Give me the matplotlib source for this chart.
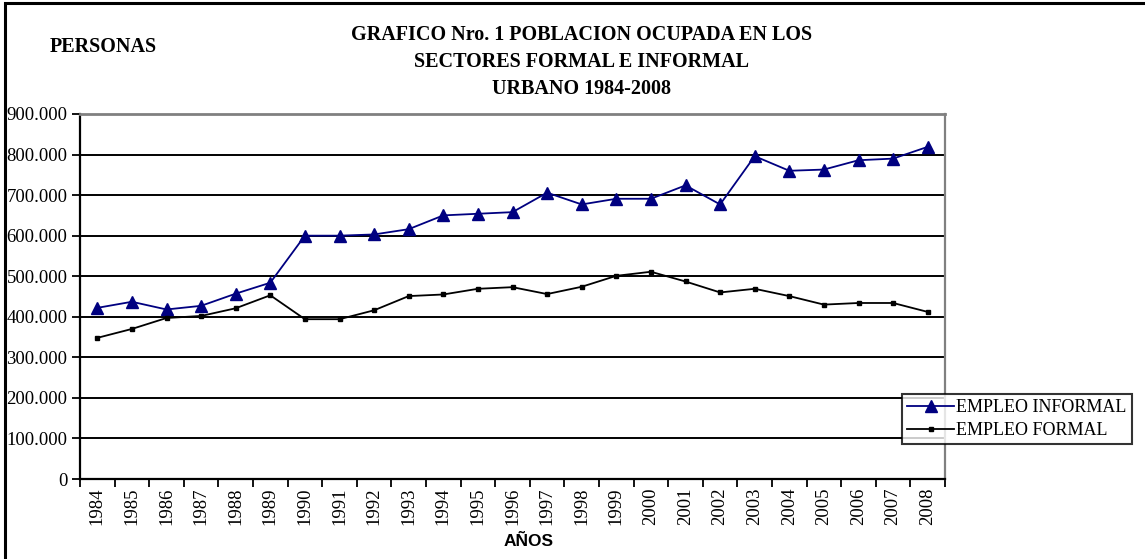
import matplotlib
matplotlib.use("Agg")
import matplotlib.pyplot as plt
from matplotlib.ticker import FixedLocator, FuncFormatter
from matplotlib.patches import Rectangle

years = [1984, 1985, 1986, 1987, 1988, 1989, 1990, 1991, 1992, 1993, 1994, 1995,
         1996, 1997, 1998, 1999, 2000, 2001, 2002, 2003, 2004, 2005, 2006, 2007, 2008]
informal = [422000, 437000, 418000, 427000, 457000, 484000, 600000, 600000, 603000,
            616000, 650000, 654000, 658000, 706000, 677000, 691000, 691000, 724000,
            677000, 796000, 760000, 763000, 786000, 790000, 819000]
formal = [348000, 370000, 397000, 402000, 421000, 453000, 394000, 394000, 416000,
          451000, 455000, 469000, 473000, 456000, 474000, 501000, 511000, 487000,
          460000, 469000, 451000, 430000, 434000, 434000, 412000]
y_ticks = [0, 100000, 200000, 300000, 400000, 500000, 600000, 700000, 800000, 900000]

W, H = 1145, 559
fig = plt.figure(figsize=(W / 100, H / 100), dpi=100)
ax = fig.add_axes([80 / W, 1 - 479 / H, (945 - 80) / W, (479 - 114) / H])

serif = "Liberation Serif"
x = list(range(len(years)))

for yv in y_ticks[1:]:
    ax.axhline(yv, color="black", lw=1.4, zorder=1)

l1, = ax.plot(x, informal, color="#000080", lw=1.3, marker="^", markersize=9,
              markerfacecolor="#000080", markeredgecolor="#000080", zorder=3,
              label="EMPLEO INFORMAL")
l2, = ax.plot(x, formal, color="black", lw=1.3, marker="s", markersize=3.5,
              markerfacecolor="black", zorder=3, label="EMPLEO FORMAL")

ax.set_xlim(-0.5, len(years) - 0.5)
ax.set_ylim(0, 900000)
ax.set_yticks(y_ticks)
ax.yaxis.set_major_formatter(FuncFormatter(lambda v, p: "0" if v == 0 else f"{int(v):,}".replace(",", ".")))

ax.xaxis.set_major_locator(FixedLocator([i - 0.5 for i in range(len(years) + 1)]))
ax.xaxis.set_minor_locator(FixedLocator(x))
ax.xaxis.set_major_formatter(FuncFormatter(lambda v, p: ""))
ax.xaxis.set_minor_formatter(FuncFormatter(lambda v, p: str(years[int(round(v))]) if 0 <= round(v) < len(years) else ""))
ax.tick_params(axis="x", which="major", direction="out", length=6, width=1.3, color="black")
ax.tick_params(axis="x", which="minor", length=0, pad=6)
ax.tick_params(axis="y", direction="out", length=6, width=1.3, pad=3)
for lab in ax.get_xticklabels(minor=True):
    lab.set_rotation(90)
    lab.set_fontfamily(serif)
    lab.set_fontsize(13.5)
for lab in ax.get_yticklabels():
    lab.set_fontfamily(serif)
    lab.set_fontsize(13.5)

ax.spines["left"].set_color("black")
ax.spines["left"].set_linewidth(1.6)
ax.spines["bottom"].set_color("black")
ax.spines["bottom"].set_linewidth(1.6)
ax.spines["top"].set_color("#808080")
ax.spines["top"].set_linewidth(2)
ax.spines["right"].set_color("#808080")
ax.spines["right"].set_linewidth(1.6)

tkw = dict(ha="center", va="center", fontfamily=serif, fontweight="bold", fontsize=14.5)
fig.text(582 / W, 1 - 35 / H, "GRAFICO Nro. 1 POBLACION OCUPADA EN LOS", **tkw)
fig.text(582 / W, 1 - 62 / H, "SECTORES FORMAL E INFORMAL", **tkw)
fig.text(582 / W, 1 - 89 / H, "URBANO 1984-2008", **tkw)
fig.text(103 / W, 1 - 47 / H, "PERSONAS", **tkw)
fig.text(529 / W, 1 - 541 / H, "AÑOS", ha="center", va="center",
         fontfamily="Liberation Sans", fontweight="bold", fontsize=12.5)

leg = fig.legend(handles=[l1, l2], loc="upper left", bbox_to_anchor=(902 / W, 1 - 394 / H),
                 bbox_transform=fig.transFigure, frameon=True, fancybox=False,
                 prop={"family": serif, "size": 13}, borderpad=0.3, handlelength=2.6,
                 handletextpad=0.1, labelspacing=0.3, borderaxespad=0)
leg.get_frame().set_edgecolor("black")
leg.get_frame().set_linewidth(1.5)

fig.patches.append(Rectangle((5 / W, -0.1), 1.2, 1 - 3 / H + 0.1, transform=fig.transFigure,
                             fill=False, edgecolor="black", lw=2.2, zorder=0))

fig.savefig("out.png", dpi=100)
